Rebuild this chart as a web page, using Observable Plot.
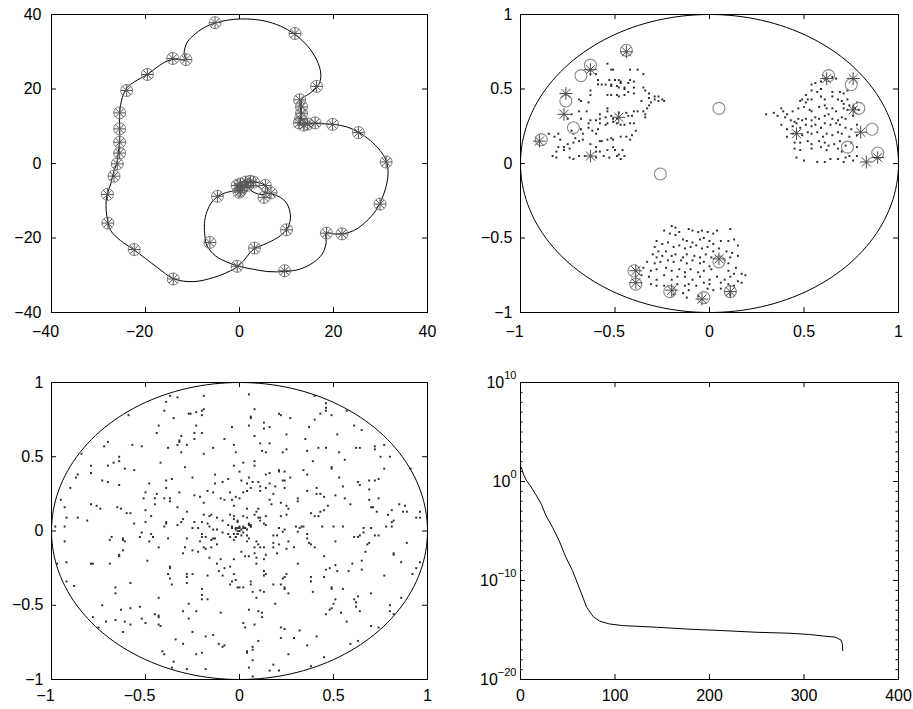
<!DOCTYPE html>
<html><head><meta charset="utf-8">
<script src="https://cdn.jsdelivr.net/npm/d3@7"></script>
<script src="https://cdn.jsdelivr.net/npm/@observablehq/plot@0.6"></script>
<style>
body{margin:0;background:#fff;}
#wrap{position:relative;width:913px;height:709px;overflow:hidden;}
#wrap > svg{position:absolute;}
</style></head><body><div id="wrap"></div>
<script>
// ---------- Panel 1: trajectory with sampled markers ----------
const trajX = [2.0,2.8,3.9,4.7,5.2,6.9,8.7,10.1,10.8,10.7,10.1,8.7,6.2,4.1,3.2,2.0,0.9,-0.5,-1.9,-5.5,-9.7,-13.9,-17.5,-22.4,-25.3,-27.4,-28.2,-28.4,-28.2,-27.4,-26.7,-26.1,-25.8,-25.5,-25.5,-25.5,-24.9,-23.9,-22.4,-19.6,-17.5,-15.4,-13.9,-11.5,-11.8,-11.1,-9.3,-6.9,-4.0,-1.2,1.6,5.2,8.7,11.5,14.0,16.1,17.2,17.2,16.4,14.7,13.3,13.0,13.1,13.0,14.4,16.1,20.0,22.9,25.3,27.8,29.9,31.2,31.6,31.4,30.7,29.8,28.5,26.4,24.3,21.8,20.0,18.5,18.4,17.6,15.8,13.0,9.8,5.9,3.0,0.2,-2.6,-5.1,-6.9,-7.4,-7.4,-6.7,-5.5,-3.3,-1.2,0.3,1.5,3.0,4.5,5.8,6.0,5.0,3.5,2.4,2.0];
const trajY = [-6.6,-6.0,-6.1,-6.9,-7.7,-8.2,-9.1,-10.8,-13.5,-15.8,-17.6,-19.4,-21.2,-22.3,-22.8,-24.3,-26.1,-27.7,-28.8,-30.6,-31.7,-31.0,-27.9,-23.2,-20.7,-18.0,-14.4,-11.0,-8.6,-5.5,-1.9,0.0,3.0,6.0,9.3,13.6,17.8,20.4,21.9,23.9,25.9,27.5,28.0,27.9,29.5,32.6,34.9,36.9,38.1,38.7,38.8,38.3,36.9,34.9,32.2,28.6,25.0,22.3,20.4,18.6,17.4,15.2,12.9,10.5,10.7,10.7,10.5,9.8,8.4,6.2,3.5,0.8,-1.9,-5.0,-8.2,-10.9,-13.5,-16.2,-18.0,-18.9,-18.9,-18.7,-21.6,-24.3,-26.5,-28.3,-29.0,-29.0,-28.4,-27.7,-26.5,-24.8,-22.1,-18.9,-15.3,-12.2,-9.8,-8.0,-7.3,-6.4,-5.4,-5.0,-5.3,-6.3,-7.5,-8.3,-8.0,-7.2,-6.6];
const sampleX = [-5.2,11.8,16.4,12.8,13.2,13.2,13.0,12.7,13.7,14.5,16.1,19.8,25.3,31.2,29.9,21.8,18.5,9.6,3.2,-0.5,-14.1,-22.4,-28.0,-28.1,-26.7,-26.0,-25.5,-25.5,-25.5,-25.5,-24.0,-19.6,-14.2,-11.4,10.0,-6.3,-4.7,5.2,6.7,5.5,0.2,0.2,1.3,2.3,3.0,-0.5,-0.1,0.6,1.6];
const sampleY = [37.8,34.9,20.7,17.1,15.2,13.5,12.0,10.9,10.3,10.6,10.9,10.5,8.3,0.4,-10.9,-18.9,-18.7,-28.8,-22.7,-27.6,-31.0,-23.1,-16.0,-8.3,-3.4,-0.1,2.8,5.7,9.3,13.6,19.6,23.9,28.2,27.9,-17.8,-21.2,-8.8,-9.1,-7.9,-5.9,-7.3,-5.5,-5.0,-4.8,-5.0,-5.9,-7.7,-6.4,-5.9];
const ticks40 = [-40,-20,0,20,40];

// ---------- Panel 2: three clusters in the unit disc ----------
const clusterDots = [[-0.54,0.67],[-0.52,0.63],[-0.51,0.63],[-0.42,0.63],[-0.38,0.63],[-0.35,0.60],[-0.63,0.60],[-0.60,0.60],[-0.59,0.56],[-0.57,0.53],[-0.59,0.53],[-0.53,0.56],[-0.52,0.53],[-0.50,0.56],[-0.48,0.56],[-0.47,0.55],[-0.47,0.54],[-0.43,0.54],[-0.42,0.56],[-0.40,0.55],[-0.40,0.51],[-0.45,0.51],[-0.45,0.50],[-0.48,0.51],[-0.49,0.52],[-0.52,0.52],[-0.55,0.53],[-0.63,0.49],[-0.63,0.46],[-0.54,0.46],[-0.52,0.46],[-0.49,0.46],[-0.48,0.45],[-0.45,0.46],[-0.43,0.48],[-0.40,0.47],[-0.35,0.51],[-0.34,0.49],[-0.32,0.47],[-0.29,0.45],[-0.27,0.45],[-0.25,0.43],[-0.24,0.42],[-0.29,0.43],[-0.27,0.42],[-0.32,0.44],[-0.31,0.41],[-0.32,0.39],[-0.33,0.37],[-0.34,0.33],[-0.34,0.31],[-0.36,0.42],[-0.35,0.35],[-0.38,0.35],[-0.40,0.35],[-0.41,0.32],[-0.43,0.32],[-0.44,0.34],[-0.48,0.34],[-0.49,0.30],[-0.51,0.30],[-0.52,0.32],[-0.54,0.35],[-0.54,0.37],[-0.55,0.31],[-0.58,0.33],[-0.58,0.30],[-0.58,0.27],[-0.60,0.29],[-0.63,0.29],[-0.64,0.27],[-0.64,0.24],[-0.62,0.22],[-0.60,0.20],[-0.59,0.23],[-0.55,0.26],[-0.54,0.27],[-0.51,0.28],[-0.49,0.27],[-0.47,0.26],[-0.45,0.26],[-0.42,0.27],[-0.40,0.27],[-0.39,0.22],[-0.41,0.19],[-0.42,0.16],[-0.44,0.18],[-0.47,0.18],[-0.51,0.16],[-0.52,0.17],[-0.54,0.16],[-0.57,0.15],[-0.58,0.15],[-0.60,0.11],[-0.63,0.13],[-0.67,0.20],[-0.67,0.16],[-0.68,0.23],[-0.69,0.35],[-0.69,0.43],[-0.68,0.42],[-0.64,0.41],[-0.65,0.35],[-0.68,0.30],[-0.73,0.33],[-0.75,0.30],[-0.72,0.20],[-0.71,0.17],[-0.69,0.15],[-0.72,0.14],[-0.75,0.13],[-0.77,0.11],[-0.80,0.11],[-0.81,0.08],[-0.83,0.05],[-0.81,0.04],[-0.77,0.09],[-0.74,0.10],[-0.74,0.04],[-0.72,0.03],[-0.69,0.05],[-0.66,0.05],[-0.60,0.08],[-0.58,0.08],[-0.56,0.05],[-0.54,0.09],[-0.51,0.11],[-0.50,0.09],[-0.48,0.06],[-0.46,0.09],[-0.45,0.05],[-0.47,0.03],[-0.49,0.05],[-0.85,0.20],[-0.82,0.18],[-0.80,0.20],[-0.79,0.16],[-0.73,0.22],[-0.53,0.04],[-0.60,0.04],
[0.54,0.53],[0.56,0.54],[0.59,0.55],[0.61,0.57],[0.65,0.58],[0.67,0.57],[0.59,0.50],[0.54,0.49],[0.57,0.48],[0.65,0.48],[0.69,0.48],[0.71,0.47],[0.73,0.49],[0.51,0.46],[0.49,0.43],[0.52,0.43],[0.48,0.42],[0.51,0.41],[0.54,0.43],[0.59,0.45],[0.61,0.43],[0.65,0.45],[0.68,0.43],[0.70,0.42],[0.73,0.43],[0.71,0.40],[0.74,0.39],[0.76,0.38],[0.78,0.41],[0.34,0.34],[0.38,0.37],[0.39,0.35],[0.41,0.33],[0.40,0.31],[0.44,0.35],[0.47,0.37],[0.50,0.38],[0.53,0.36],[0.54,0.35],[0.58,0.38],[0.61,0.39],[0.62,0.37],[0.65,0.37],[0.67,0.35],[0.71,0.37],[0.73,0.36],[0.77,0.37],[0.79,0.36],[0.43,0.29],[0.45,0.28],[0.46,0.27],[0.44,0.25],[0.47,0.30],[0.49,0.29],[0.51,0.30],[0.54,0.29],[0.56,0.31],[0.58,0.30],[0.61,0.32],[0.63,0.33],[0.65,0.30],[0.68,0.29],[0.70,0.31],[0.72,0.30],[0.76,0.32],[0.38,0.26],[0.41,0.23],[0.48,0.24],[0.51,0.26],[0.54,0.25],[0.56,0.26],[0.59,0.24],[0.61,0.27],[0.64,0.26],[0.67,0.27],[0.69,0.26],[0.72,0.24],[0.75,0.23],[0.78,0.26],[0.44,0.20],[0.46,0.21],[0.49,0.19],[0.52,0.21],[0.54,0.20],[0.57,0.21],[0.60,0.18],[0.62,0.20],[0.65,0.19],[0.68,0.21],[0.70,0.20],[0.74,0.18],[0.78,0.19],[0.41,0.18],[0.45,0.14],[0.48,0.14],[0.52,0.15],[0.54,0.13],[0.58,0.15],[0.61,0.14],[0.63,0.12],[0.66,0.13],[0.69,0.15],[0.72,0.12],[0.75,0.14],[0.45,0.10],[0.48,0.09],[0.54,0.10],[0.59,0.11],[0.62,0.09],[0.68,0.10],[0.78,0.11],[0.70,0.08],[0.46,0.04],[0.50,0.02],[0.57,0.01],[0.61,0.01],[0.64,0.03],[0.68,0.03],[0.72,0.04],[0.74,0.05],[0.78,0.05],[0.71,0.01],[0.76,0.02],[0.30,0.33],[0.36,0.32],
[-0.20,-0.42],[-0.18,-0.43],[-0.24,-0.45],[-0.21,-0.47],[-0.18,-0.48],[-0.16,-0.46],[-0.11,-0.44],[-0.09,-0.45],[-0.06,-0.46],[-0.04,-0.45],[-0.01,-0.46],[0.02,-0.47],[0.04,-0.45],[0.11,-0.44],[-0.14,-0.51],[-0.12,-0.52],[-0.09,-0.53],[-0.05,-0.51],[-0.03,-0.50],[0.00,-0.52],[0.02,-0.54],[0.06,-0.52],[0.10,-0.52],[0.13,-0.51],[-0.28,-0.52],[-0.25,-0.54],[-0.22,-0.53],[-0.29,-0.56],[-0.27,-0.59],[-0.23,-0.59],[-0.19,-0.56],[-0.16,-0.55],[-0.13,-0.57],[-0.10,-0.56],[-0.07,-0.55],[-0.04,-0.57],[-0.01,-0.56],[0.02,-0.59],[0.05,-0.57],[0.09,-0.59],[0.12,-0.60],[0.15,-0.55],[-0.30,-0.61],[-0.28,-0.63],[-0.25,-0.62],[-0.20,-0.62],[-0.18,-0.61],[-0.14,-0.63],[-0.12,-0.61],[-0.08,-0.62],[-0.05,-0.63],[-0.02,-0.61],[0.01,-0.63],[0.11,-0.63],[0.15,-0.62],[-0.33,-0.66],[-0.29,-0.67],[-0.26,-0.66],[-0.22,-0.65],[-0.19,-0.66],[-0.15,-0.65],[-0.12,-0.67],[-0.09,-0.65],[-0.05,-0.67],[-0.03,-0.66],[0.00,-0.69],[0.08,-0.65],[0.10,-0.67],[0.14,-0.70],[-0.35,-0.70],[-0.31,-0.72],[-0.28,-0.71],[-0.23,-0.70],[-0.20,-0.72],[-0.16,-0.71],[-0.13,-0.73],[-0.10,-0.71],[-0.06,-0.73],[-0.03,-0.72],[0.01,-0.71],[0.10,-0.72],[0.13,-0.74],[0.17,-0.74],[0.19,-0.75],[-0.36,-0.75],[-0.32,-0.76],[-0.28,-0.78],[-0.24,-0.75],[-0.20,-0.78],[-0.17,-0.76],[-0.13,-0.76],[-0.09,-0.78],[-0.05,-0.76],[0.00,-0.78],[0.04,-0.76],[0.08,-0.78],[0.11,-0.76],[0.15,-0.79],[-0.31,-0.81],[-0.28,-0.82],[-0.24,-0.82],[-0.17,-0.81],[-0.13,-0.82],[-0.11,-0.81],[-0.07,-0.82],[-0.03,-0.80],[0.00,-0.81],[0.06,-0.80],[0.10,-0.81],[0.13,-0.82],[0.17,-0.80],[-0.14,-0.87],[-0.11,-0.85],[-0.01,-0.84],[0.02,-0.85],[0.06,-0.84],[-0.06,-0.89],[-0.12,-0.90],[-0.19,-0.88],[0.11,-0.88]];
const ringCircles = [[-0.44,0.76],[-0.63,0.66],[-0.68,0.59],[-0.76,0.42],[-0.72,0.24],[-0.89,0.16],[0.05,0.37],[-0.26,-0.07],[0.63,0.59],[0.75,0.53],[0.79,0.37],[0.86,0.23],[0.73,0.11],[0.89,0.07],[-0.40,-0.72],[-0.39,-0.81],[-0.21,-0.86],[-0.03,-0.90],[0.05,-0.66],[0.11,-0.86]];
const ringStars = [[-0.44,0.75],[-0.63,0.63],[-0.76,0.47],[-0.77,0.33],[-0.90,0.15],[-0.63,0.05],[-0.48,0.31],[0.62,0.57],[0.76,0.57],[0.76,0.36],[0.46,0.20],[0.80,0.21],[0.83,0.01],[0.89,0.04],[-0.39,-0.72],[-0.39,-0.80],[-0.20,-0.85],[-0.04,-0.91],[0.05,-0.64],[0.11,-0.86]];
const ticksUnit = [-1,-0.5,0,0.5,1];

// ---------- Panel 3: points spread over the unit disc ----------
const discDots = [[-0.19,0.91],[-0.37,0.91],[-0.33,0.90],[-0.39,0.87],[-0.59,0.78],[-0.40,0.81],[-0.27,0.79],[-0.26,0.79],[-0.23,0.80],[-0.20,0.81],[-0.19,0.82],[-0.20,0.78],[-0.35,0.76],[-0.43,0.71],[-0.23,0.71],[-0.04,0.70],[-0.44,0.66],[-0.24,0.66],[-0.20,0.66],[-0.31,0.64],[-0.24,0.62],[-0.08,0.62],[-0.32,0.61],[-0.32,0.60],[-0.70,0.60],[-0.72,0.57],[-0.57,0.58],[-0.52,0.57],[-0.33,0.58],[-0.28,0.58],[-0.38,0.56],[-0.84,0.52],[-0.31,0.53],[-0.64,0.50],[-0.19,0.52],[-0.14,0.56],[-0.03,0.58],[-0.02,0.53],[-0.64,0.47],[-0.67,0.46],[-0.70,0.44],[-0.42,0.46],[-0.79,0.44],[-0.61,0.42],[-0.56,0.41],[-0.29,0.43],[-0.03,0.44],[-0.86,0.38],[-0.79,0.39],[-0.87,0.36],[-0.13,0.38],[-0.25,0.36],[-0.06,0.35],[-0.73,0.34],[-0.70,0.33],[-0.36,0.35],[-0.39,0.34],[-0.48,0.32],[-0.13,0.32],[-0.09,0.33],[-0.90,0.29],[-0.64,0.31],[-0.39,0.29],[-0.17,0.27],[-0.14,0.26],[-0.05,0.26],[-0.50,0.26],[-0.44,0.25],[-0.32,0.26],[-0.95,0.21],[-0.51,0.22],[-0.45,0.22],[-0.37,0.22],[-0.40,0.22],[-0.37,0.20],[-0.45,0.18],[-0.24,0.24],[-0.21,0.23],[-0.19,0.19],[-0.10,0.22],[-0.08,0.21],[-0.04,0.21],[-0.02,0.23],[-0.93,0.16],[-0.79,0.18],[-0.76,0.17],[-0.74,0.15],[-0.65,0.16],[-0.63,0.15],[-0.33,0.16],[-0.03,0.17],[-0.50,0.14],[-0.28,0.13],[-0.58,0.12],[-0.60,0.12],[-0.19,0.11],[-0.16,0.10],[-0.15,0.11],[-0.12,0.09],[-0.05,0.11],[-0.03,0.10],[-0.92,0.09],[-0.86,0.09],[-0.81,0.07],[-0.47,0.10],[-0.30,0.08],[-0.31,0.06],[-0.56,0.05],[-0.50,0.06],[-0.39,0.05],[-0.39,0.06],[-0.24,0.06],[-0.20,0.06],[-0.17,0.05],[-0.09,0.07],[-0.03,0.08],[-0.01,0.07],[-0.01,0.06],[-0.98,0.03],[-0.93,0.03],[-0.40,0.03],[-0.33,0.04],[-0.25,0.02],[-0.22,0.02],[-0.16,0.03],[-0.14,0.01],[-0.12,0.01],[-0.06,0.04],[-0.04,0.03],[-0.02,0.02],[-0.01,0.02],
[0.05,0.92],[0.08,0.82],[0.06,0.77],[0.06,0.76],[0.21,0.79],[0.22,0.78],[0.27,0.76],[0.13,0.73],[0.13,0.69],[0.16,0.70],[0.05,0.71],[0.08,0.64],[0.25,0.65],[0.11,0.59],[0.16,0.59],[0.12,0.54],[0.14,0.53],[0.23,0.53],[0.25,0.55],[0.02,0.46],[0.08,0.47],[0.08,0.44],[0.00,0.40],[0.05,0.36],[0.14,0.38],[0.16,0.39],[0.21,0.41],[0.21,0.40],[0.24,0.40],[0.27,0.36],[0.23,0.34],[0.24,0.34],[0.01,0.34],[0.04,0.32],[0.07,0.33],[0.10,0.33],[0.11,0.30],[0.14,0.29],[0.16,0.32],[0.19,0.30],[0.24,0.29],[0.18,0.25],[0.02,0.26],[0.04,0.27],[0.06,0.29],[0.11,0.27],[0.00,0.22],[0.16,0.21],[0.17,0.18],[0.22,0.19],[0.25,0.17],[0.26,0.15],[0.31,0.22],[0.31,0.20],[0.04,0.15],[0.10,0.15],[0.09,0.13],[0.02,0.10],[0.04,0.09],[0.08,0.11],[0.10,0.09],[0.11,0.09],[0.14,0.10],[0.22,0.10],[0.25,0.11],[0.11,0.07],[0.13,0.05],[0.14,0.04],[0.05,0.05],[0.06,0.04],[0.06,0.03],[0.00,0.03],[0.02,0.02],[0.03,0.02],[0.21,0.02],[0.24,0.01],[0.30,0.03],[0.32,0.02],[0.33,0.03],[0.34,0.03],[0.40,0.91],[0.46,0.86],[0.46,0.83],[0.46,0.81],[0.43,0.79],[0.49,0.78],[0.57,0.81],[0.40,0.75],[0.37,0.70],[0.52,0.65],[0.61,0.71],[0.65,0.68],[0.35,0.62],[0.36,0.54],[0.42,0.56],[0.46,0.56],[0.53,0.53],[0.62,0.56],[0.64,0.56],[0.72,0.57],[0.72,0.55],[0.77,0.58],[0.56,0.48],[0.39,0.47],[0.49,0.43],[0.49,0.42],[0.34,0.41],[0.36,0.38],[0.53,0.36],[0.75,0.50],[0.80,0.50],[0.77,0.42],[0.91,0.42],[0.41,0.29],[0.36,0.27],[0.41,0.25],[0.43,0.25],[0.45,0.23],[0.51,0.24],[0.55,0.30],[0.56,0.22],[0.59,0.18],[0.63,0.33],[0.64,0.31],[0.69,0.34],[0.69,0.28],[0.72,0.34],[0.74,0.35],[0.69,0.21],[0.74,0.22],[0.70,0.16],[0.71,0.16],[0.73,0.13],[0.47,0.17],[0.38,0.12],[0.40,0.10],[0.42,0.10],[0.43,0.13],[0.45,0.14],[0.79,0.11],[0.81,0.14],[0.85,0.18],[0.88,0.17],[0.87,0.13],[0.89,0.13],[0.96,0.13],[0.94,0.09],[0.96,0.09],[0.81,0.06],[0.82,0.07],[0.78,0.03],[0.81,0.03],[0.70,0.02],[0.66,0.02],[0.55,0.03],[0.50,0.03],[0.44,0.03],
[-0.93,-0.07],[-0.68,-0.04],[-0.69,-0.06],[-0.62,-0.05],[-0.61,-0.07],[-0.62,-0.06],[-0.53,-0.04],[-0.52,-0.01],[-0.47,-0.02],[-0.46,-0.04],[-0.48,-0.07],[-0.38,-0.05],[-0.28,-0.05],[-0.20,-0.02],[-0.18,-0.04],[-0.20,-0.04],[-0.15,-0.06],[-0.14,-0.05],[-0.13,-0.05],[-0.09,-0.01],[-0.06,-0.02],[-0.05,-0.04],[-0.03,-0.06],[-0.02,-0.04],[-0.01,-0.02],[-0.21,-0.07],[-0.19,-0.11],[-0.18,-0.12],[-0.15,-0.11],[-0.12,-0.09],[-0.29,-0.11],[-0.25,-0.13],[-0.22,-0.14],[-0.43,-0.11],[-0.62,-0.13],[-0.64,-0.16],[-0.64,-0.17],[-0.97,-0.22],[-0.92,-0.21],[-0.79,-0.22],[-0.78,-0.22],[-0.69,-0.22],[-0.49,-0.20],[-0.30,-0.15],[-0.16,-0.18],[-0.10,-0.19],[-0.03,-0.19],[-0.12,-0.22],[-0.37,-0.24],[-0.37,-0.25],[-0.05,-0.24],[-0.08,-0.25],[-0.11,-0.27],[-0.09,-0.30],[-0.03,-0.29],[-0.02,-0.33],[-0.04,-0.34],[-0.05,-0.36],[-0.01,-0.38],[-0.38,-0.29],[-0.28,-0.29],[-0.25,-0.29],[-0.28,-0.31],[-0.17,-0.30],[-0.37,-0.32],[-0.36,-0.36],[-0.28,-0.35],[-0.92,-0.34],[-0.88,-0.37],[-0.66,-0.38],[-0.66,-0.42],[-0.58,-0.35],[-0.43,-0.45],[-0.20,-0.39],[-0.20,-0.43],[-0.20,-0.46],[-0.17,-0.46],[-0.27,-0.49],[-0.73,-0.50],[-0.63,-0.53],[-0.58,-0.52],[-0.53,-0.51],[-0.45,-0.56],[-0.43,-0.57],[-0.43,-0.58],[-0.30,-0.54],[-0.23,-0.54],[-0.27,-0.59],[-0.10,-0.55],[-0.78,-0.58],[-0.71,-0.61],[-0.66,-0.60],[-0.61,-0.61],[-0.58,-0.63],[-0.52,-0.59],[-0.50,-0.62],[-0.43,-0.63],[-0.42,-0.64],[-0.75,-0.65],[-0.62,-0.68],[-0.25,-0.68],[-0.18,-0.71],[-0.14,-0.70],[-0.34,-0.73],[-0.30,-0.76],[-0.11,-0.76],[-0.09,-0.78],[-0.08,-0.77],[-0.41,-0.81],[-0.40,-0.83],[-0.23,-0.83],[-0.20,-0.82],[-0.35,-0.88],[-0.36,-0.92],[-0.28,-0.93],[-0.18,-0.93],
[0.04,-0.03],[0.05,-0.05],[0.04,-0.07],[0.09,-0.07],[0.10,-0.09],[0.08,-0.11],[0.11,-0.11],[0.13,-0.11],[0.01,-0.14],[0.03,-0.17],[0.05,-0.17],[0.08,-0.15],[0.09,-0.18],[0.09,-0.22],[0.14,-0.16],[0.13,-0.19],[0.18,-0.03],[0.20,-0.03],[0.18,-0.08],[0.18,-0.11],[0.21,-0.09],[0.20,-0.15],[0.26,-0.07],[0.25,-0.12],[0.29,-0.11],[0.31,-0.005],[0.23,-0.005],[0.36,-0.02],[0.36,-0.05],[0.37,-0.08],[0.38,-0.09],[0.40,-0.11],[0.51,-0.07],[0.61,-0.04],[0.63,-0.04],[0.66,-0.01],[0.64,-0.03],[0.72,-0.03],[0.74,-0.03],[0.69,-0.08],[0.68,-0.09],[0.67,-0.14],[0.89,-0.08],[0.82,-0.15],[0.82,-0.16],[0.86,-0.21],[0.96,-0.21],[0.94,-0.25],[0.92,-0.29],[0.77,-0.30],[0.65,-0.20],[0.65,-0.26],[0.60,-0.22],[0.58,-0.27],[0.52,-0.27],[0.51,-0.23],[0.48,-0.25],[0.46,-0.26],[0.45,-0.17],[0.31,-0.22],[0.13,-0.27],[0.14,-0.29],[0.13,-0.30],[0.06,-0.34],[0.06,-0.36],[0.00,-0.38],[0.02,-0.38],[0.07,-0.41],[0.11,-0.40],[0.13,-0.41],[0.09,-0.45],[0.18,-0.36],[0.22,-0.36],[0.24,-0.38],[0.24,-0.39],[0.23,-0.32],[0.24,-0.31],[0.25,-0.29],[0.26,-0.42],[0.38,-0.31],[0.38,-0.34],[0.39,-0.41],[0.45,-0.31],[0.49,-0.38],[0.49,-0.39],[0.55,-0.39],[0.51,-0.46],[0.50,-0.49],[0.49,-0.52],[0.48,-0.53],[0.46,-0.56],[0.54,-0.55],[0.57,-0.61],[0.61,-0.46],[0.62,-0.48],[0.63,-0.44],[0.62,-0.51],[0.64,-0.54],[0.70,-0.42],[0.80,-0.50],[0.82,-0.56],[0.80,-0.54],[0.86,-0.45],[0.05,-0.53],[0.10,-0.54],[0.12,-0.55],[0.12,-0.58],[0.02,-0.62],[0.03,-0.65],[0.08,-0.63],[0.19,-0.49],[0.22,-0.65],[0.24,-0.66],[0.22,-0.72],[0.29,-0.72],[0.32,-0.67],[0.41,-0.71],[0.36,-0.77],[0.10,-0.74],[0.07,-0.78],[0.07,-0.80],[0.04,-0.81],[0.04,-0.82],[0.07,-0.87],[0.05,-0.92],[0.18,-0.90],[0.16,-0.94],[0.21,-0.94],[0.07,-0.98],[0.26,-0.83],[0.38,-0.91],[0.45,-0.85],[0.59,-0.76],[0.63,-0.74],[0.70,-0.64],[0.74,-0.65],
[0.00,0.00],[0.01,0.01],[-0.01,0.00],[0.02,-0.01],[-0.02,0.01],[0.03,0.02],[-0.03,-0.02],[0.01,-0.03],[-0.01,-0.02],[0.04,0.01],[0.02,0.03],[-0.04,0.02],[0.06,0.03],[0.05,0.04],[0.00,0.02],[-0.02,-0.04]];

// ---------- Panel 4: residual history ----------
const residIter = [1,3,6,11,17,22,27,34,41,48,55,62,70,77,84,94,108,144,179,214,250,285,306,320,333,339,340.6,341];
const residVal = [26,5.6,1.4,0.3,0.036,5.2e-3,3.5e-4,2.3e-5,1.0e-6,2.2e-8,1e-9,2.0e-11,2.0e-13,2.2e-14,7.6e-15,4.1e-15,2.8e-15,1.9e-15,1.2e-15,8.7e-16,5.9e-16,4.7e-16,3.5e-16,2.5e-16,1.9e-16,1.0e-16,4.0e-17,8.3e-18];
const iterTicks = [0,100,200,300,400];
const decadeTicks = [1e10,1,1e-10,1e-20];
const minorDecades = d3.range(-20, 11).map(k => Math.pow(10, k));

// ---------- helpers ----------
const FONT = "'Liberation Sans', Arial, Helvetica, sans-serif";
const FS = 16;
const unitAngles = d3.range(0, 361, 2).map(a => a * Math.PI / 180);
const fmtNum = d => d < 0 ? "\u2212" + Math.abs(d) : String(d);

function innerTicks(xt, yt, iw, ih, len) {
  return [
    Plot.tickX(xt, {x: d => d, insetBottom: ih - len, stroke: "#000"}),
    Plot.tickX(xt, {x: d => d, insetTop: ih - len, stroke: "#000"}),
    Plot.tickY(yt, {y: d => d, insetRight: iw - len, stroke: "#000"}),
    Plot.tickY(yt, {y: d => d, insetLeft: iw - len, stroke: "#000"})
  ];
}
function xLabels(xt, pad, fmt = fmtNum) {
  return [
    Plot.axisX(xt.filter(v => v >= 0), {anchor: "bottom", tickSize: 0, tickPadding: pad, tickFormat: fmt, fontSize: FS, label: null}),
    Plot.axisX(xt.filter(v => v < 0), {anchor: "bottom", tickSize: 0, tickPadding: pad, tickFormat: fmt, fontSize: FS, label: null, dx: -6})
  ];
}
function yLabels(yt, pad, fmt = fmtNum) {
  return Plot.axisY(yt, {anchor: "left", tickSize: 0, tickPadding: pad, tickFormat: fmt, fontSize: FS, label: null});
}
function stars(data, r, color) {
  return [
    Plot.dot(data, {x: d => d[0], y: d => d[1], symbol: "plus", r, stroke: color, fill: "none", strokeWidth: 1}),
    Plot.dot(data, {x: d => d[0], y: d => d[1], symbol: "times", r, stroke: color, fill: "none", strokeWidth: 1})
  ];
}
function place(svg, left, top) {
  svg.style.left = left + "px";
  svg.style.top = top + "px";
  document.getElementById("wrap").appendChild(svg);
}
const baseStyle = {fontFamily: FONT, fontSize: FS + "px", background: "transparent", overflow: "visible", color: "#000"};

// ---------- Panel 1 ----------
{
  const W = 456, H = 345, ml = 51, mr = 29, mt = 14, mb = 33;
  const iw = W - ml - mr, ih = H - mt - mb;
  const traj = trajX.map((x, i) => ({x, y: trajY[i]}));
  const samples = sampleX.map((x, i) => [x, sampleY[i]]);
  const svg = Plot.plot({
    width: W, height: H, marginLeft: ml, marginRight: mr, marginTop: mt, marginBottom: mb,
    style: baseStyle,
    x: {domain: [-40, 40]}, y: {domain: [-40, 40]},
    marks: [
      Plot.line(traj, {x: "x", y: "y", curve: "catmull-rom", stroke: "#000", strokeWidth: 1}),
      Plot.dot(samples, {x: d => d[0], y: d => d[1], r: 6, stroke: "#808080", fill: "none", strokeWidth: 1}),
      ...stars(samples, 3.9, "#555"),
      Plot.frame({stroke: "#000"}),
      ...innerTicks(ticks40, ticks40, iw, ih, 5),
      ...xLabels(ticks40, 13),
      yLabels(ticks40, 10)
    ]
  });
  place(svg, 0, 0);
}

// ---------- Panel 2 ----------
{
  const W = 457, H = 345, ml = 64, mr = 15, mt = 14, mb = 33;
  const iw = W - ml - mr, ih = H - mt - mb;
  const svg = Plot.plot({
    width: W, height: H, marginLeft: ml, marginRight: mr, marginTop: mt, marginBottom: mb,
    style: baseStyle,
    x: {domain: [-1, 1]}, y: {domain: [-1, 1]},
    marks: [
      Plot.line(unitAngles, {x: t => Math.cos(t), y: t => Math.sin(t), stroke: "#000", strokeWidth: 1}),
      Plot.dot(clusterDots, {x: d => d[0], y: d => d[1], symbol: "square", r: 1.1, fill: "#2a2a2a"}),
      Plot.dot(ringCircles, {x: d => d[0], y: d => d[1], r: 6, stroke: "#8a8a8a", fill: "none", strokeWidth: 1.1}),
      ...stars(ringStars, 4.2, "#4a4a4a"),
      Plot.frame({stroke: "#000"}),
      ...innerTicks(ticksUnit, ticksUnit, iw, ih, 5),
      ...xLabels(ticksUnit, 13),
      yLabels(ticksUnit, 8)
    ]
  });
  place(svg, 456, 0);
}

// ---------- Panel 3 ----------
{
  const W = 456, H = 354, ml = 51, mr = 29, mt = 27, mb = 30;
  const iw = W - ml - mr, ih = H - mt - mb;
  const svg = Plot.plot({
    width: W, height: H, marginLeft: ml, marginRight: mr, marginTop: mt, marginBottom: mb,
    style: baseStyle,
    x: {domain: [-1, 1]}, y: {domain: [-1, 1]},
    marks: [
      Plot.line(unitAngles, {x: t => Math.cos(t), y: t => Math.sin(t), stroke: "#000", strokeWidth: 1}),
      Plot.dot(discDots, {x: d => d[0], y: d => d[1], symbol: "square", r: 1.1, fill: "#2a2a2a"}),
      Plot.frame({stroke: "#000"}),
      ...innerTicks(ticksUnit, ticksUnit, iw, ih, 5),
      ...xLabels(ticksUnit, 10),
      yLabels(ticksUnit, 8)
    ]
  });
  place(svg, 0, 355);
}

// ---------- Panel 4 ----------
{
  const W = 457, H = 354, ml = 64, mr = 15, mt = 27, mb = 30;
  const iw = W - ml - mr, ih = H - mt - mb;
  const resid = residIter.map((x, i) => ({x, y: residVal[i]}));
  const svg = Plot.plot({
    width: W, height: H, marginLeft: ml, marginRight: mr, marginTop: mt, marginBottom: mb,
    style: baseStyle,
    x: {domain: [0, 400]}, y: {type: "log", domain: [1e-20, 1e10]},
    marks: [
      Plot.line(resid, {x: "x", y: "y", stroke: "#000", strokeWidth: 1}),
      Plot.frame({stroke: "#000"}),
      Plot.tickX(iterTicks, {x: d => d, insetBottom: ih - 5, stroke: "#000"}),
      Plot.tickX(iterTicks, {x: d => d, insetTop: ih - 5, stroke: "#000"}),
      Plot.tickY(minorDecades, {y: d => d, insetRight: iw - 2.5, stroke: "#000"}),
      Plot.tickY(minorDecades, {y: d => d, insetLeft: iw - 2.5, stroke: "#000"}),
      Plot.tickY(decadeTicks, {y: d => d, insetRight: iw - 5, stroke: "#000"}),
      Plot.tickY(decadeTicks, {y: d => d, insetLeft: iw - 5, stroke: "#000"}),
      ...xLabels(iterTicks, 10, d => String(d)),
      yLabels(decadeTicks, 4, d => "10^" + Math.round(Math.log10(d)))
    ]
  });
  svg.querySelectorAll("text").forEach(t => {
    const s = t.textContent;
    if (s.startsWith("10^")) {
      const e = s.slice(3).replace("-", "\u2212");
      t.textContent = "10";
      const ts = document.createElementNS("http://www.w3.org/2000/svg", "tspan");
      ts.setAttribute("dy", "-9");
      ts.setAttribute("font-size", "11");
      ts.textContent = e;
      t.appendChild(ts);
    }
  });
  place(svg, 456, 355);
}
</script></body></html>
